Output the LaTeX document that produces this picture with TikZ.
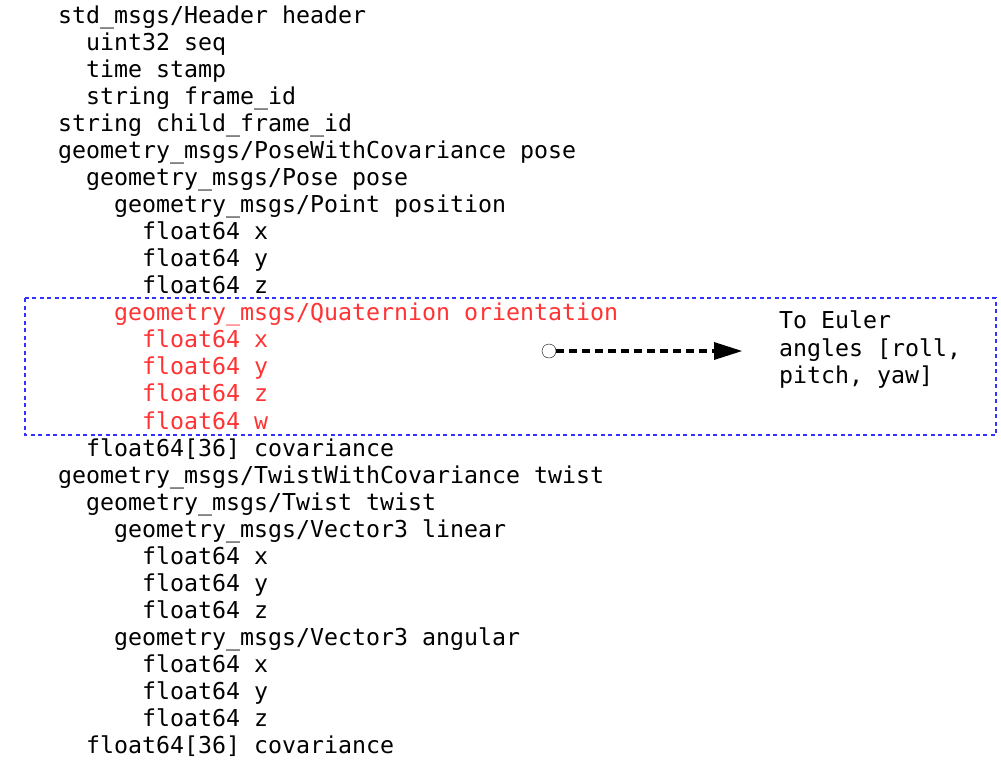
\documentclass[tikz,border=0pt]{standalone}
\usepackage{fontspec}
\setmonofont{DejaVu Sans Mono}
\usepackage{xcolor}
\usetikzlibrary{arrows.meta}
\definecolor{quatred}{HTML}{FF3333}
\definecolor{boxblue}{HTML}{3333FF}
\tikzset{
  msgline/.style={anchor=base west,inner sep=0pt,font=\ttfamily\fontsize{23.25}{27.07}\selectfont},
}

\begin{document}
\begin{tikzpicture}[x=1pt,y=-1pt]
	\useasboundingbox (0,0) rectangle (1001,766);
	\foreach \lvl/\txt/\col [count=\i from 0] in {
		0/{std\_msgs/Header header}/black,
		1/{uint32 seq}/black,
		1/{time stamp}/black,
		1/{string frame\_id}/black,
		0/{string child\_frame\_id}/black,
		0/{geometry\_msgs/PoseWithCovariance pose}/black,
		1/{geometry\_msgs/Pose pose}/black,
		2/{geometry\_msgs/Point position}/black,
		3/{float64 x}/black,
		3/{float64 y}/black,
		3/{float64 z}/black,
		2/{geometry\_msgs/Quaternion orientation}/quatred,
		3/{float64 x}/quatred,
		3/{float64 y}/quatred,
		3/{float64 z}/quatred,
		3/{float64 w}/quatred,
		1/{float64[36] covariance}/black,
		0/{geometry\_msgs/TwistWithCovariance twist}/black,
		1/{geometry\_msgs/Twist twist}/black,
		2/{geometry\_msgs/Vector3 linear}/black,
		3/{float64 x}/black,
		3/{float64 y}/black,
		3/{float64 z}/black,
		2/{geometry\_msgs/Vector3 angular}/black,
		3/{float64 x}/black,
		3/{float64 y}/black,
		3/{float64 z}/black,
		1/{float64[36] covariance}/black}
		\node[msgline,text=\col] (l\i) at (58+28*\lvl,23+27.07*\i) {\txt};
	% highlighted block
	\draw[boxblue,line width=2.2pt,dash pattern=on 4pt off 3.5pt] (25,298) rectangle (996,435);
	\node[msgline,align=left] (euler) at (779,383.1) {To Euler\\angles [roll,\\pitch, yaw]};
	\node[circle,draw,thin,fill=white,inner sep=0pt,minimum size=14pt] (src) at (549,351) {};
	\coordinate (tgt) at (742,351);
	\draw[line width=4pt,dash pattern=on 8pt off 5pt,-{Triangle[length=28pt,width=18pt,line width=0pt]}] (src) -- (tgt);
\end{tikzpicture}
\end{document}
